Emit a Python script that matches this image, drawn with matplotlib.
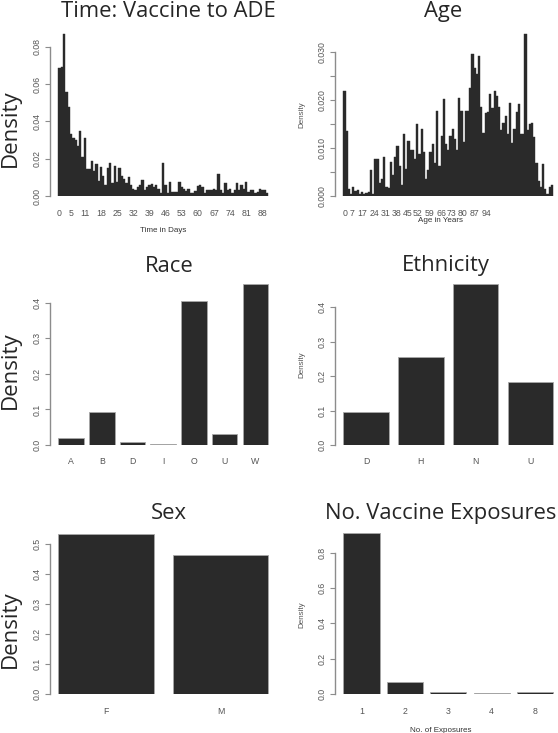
import matplotlib.pyplot as plt
import numpy as np

# --- data ---
days_density = [0.0684, 0.0690, 0.0866, 0.0559, 0.0475, 0.0330, 0.0310, 0.0300, 0.0270, 0.0346,
                0.0210, 0.0310, 0.0143, 0.0143, 0.0190, 0.0136, 0.0170, 0.0080, 0.0157, 0.0107,
                0.0060, 0.0150, 0.0175, 0.0070, 0.0160, 0.0077, 0.0150, 0.0107, 0.0090, 0.0070,
                0.0100, 0.0060, 0.0040, 0.0030, 0.0046, 0.0060, 0.0086, 0.0030, 0.0046, 0.0057,
                0.0064, 0.0050, 0.0060, 0.0040, 0.0014, 0.0178, 0.0060, 0.0014, 0.0075, 0.0020,
                0.0020, 0.0020, 0.0075, 0.0046, 0.0040, 0.0025, 0.0040, 0.0014, 0.0018, 0.0025,
                0.0055, 0.0060, 0.0046, 0.0018, 0.0030, 0.0032, 0.0030, 0.0037, 0.0030, 0.0120,
                0.0030, 0.0014, 0.0068, 0.0030, 0.0040, 0.0018, 0.0030, 0.0070, 0.0032, 0.0057,
                0.0040, 0.0075, 0.0023, 0.0030, 0.0030, 0.0014, 0.0020, 0.0036, 0.0030, 0.0032,
                0.0018]
day_labels = [0, 5, 11, 18, 25, 32, 39, 46, 53, 60, 67, 74, 81, 88]

age_density = [0.0219, 0.0136, 0.0015, 0.0004, 0.0019, 0.0011, 0.0012, 0.0004, 0.0008, 0.0004,
               0.0006, 0.0008, 0.0054, 0.0004, 0.0076, 0.0076, 0.0028, 0.0035, 0.0081, 0.0019,
               0.0016, 0.0070, 0.0044, 0.0082, 0.0104, 0.0062, 0.0023, 0.0129, 0.0057, 0.0114,
               0.0096, 0.0096, 0.0076, 0.0149, 0.0087, 0.0140, 0.0092, 0.0035, 0.0054, 0.0092,
               0.0109, 0.0069, 0.0177, 0.0062, 0.0125, 0.0201, 0.0107, 0.0096, 0.0125, 0.0140,
               0.0118, 0.0096, 0.0204, 0.0177, 0.0113, 0.0177, 0.0177, 0.0224, 0.0295, 0.0265,
               0.0253, 0.0291, 0.0185, 0.0130, 0.0172, 0.0175, 0.0212, 0.0182, 0.0219, 0.0208,
               0.0185, 0.0138, 0.0151, 0.0166, 0.0128, 0.0194, 0.0111, 0.0140, 0.0174, 0.0192,
               0.0129, 0.0129, 0.0336, 0.0138, 0.0150, 0.0151, 0.0123, 0.0069, 0.0031, 0.0019,
               0.0066, 0.0015, 0.0004, 0.0019, 0.0023]
age_labels = [0, 7, 17, 24, 31, 38, 45, 52, 59, 66, 73, 80, 87, 94]
age_label_pos = [0.6, 4.0, 8.7, 14.3, 19.3, 23.9, 29.2, 33.8, 39.0, 44.3, 49.0, 53.9, 59.2, 64.6]

race_cats = ['A', 'B', 'D', 'I', 'O', 'U', 'W']
race_density = [0.0206, 0.0918, 0.0094, 0.0028, 0.4045, 0.0309, 0.453]

eth_cats = ['D', 'H', 'N', 'U']
eth_density = [0.097, 0.257, 0.469, 0.184]

sex_cats = ['F', 'M']
sex_density = [0.535, 0.465]

exp_cats = ['1', '2', '3', '4', '8']
exp_density = [0.909, 0.070, 0.011, 0.0057, 0.011]

W, H = 558, 733
BAR = '#2a2a2a'
AXC = '#8c8c8c'
TXT = '#555555'
SMALL = 'Liberation Sans'


def fx(x):
    return x / W


def fy(y):
    return 1 - y / H


def make_ax(left, base):
    # left = y axis line, base = baseline pixel row
    return fig.add_axes([fx(left), fy(base), 226.5 / W, 168 / H])


def style(ax, n_units, yticks, ylabels, ytop):
    pad = 0.04 * (n_units[1] - n_units[0])
    ax.set_xlim(n_units[0] - pad, n_units[1] + pad)
    ax.set_ylim(0, ytop)
    for s in ['top', 'right', 'bottom']:
        ax.spines[s].set_visible(False)
    ax.spines['left'].set_bounds(0, yticks[-1])
    ax.spines['left'].set_color(AXC)
    ax.spines['left'].set_linewidth(1.0)
    ax.set_yticks(yticks)
    ax.set_yticklabels(ylabels, rotation=90, va='center', family=SMALL)
    ax.tick_params(axis='y', length=3.5, width=0.8, color=AXC, labelsize=6.3,
                   labelcolor=TXT, pad=2.5)
    ax.tick_params(axis='x', length=0, labelsize=6.3, labelcolor=TXT, pad=9)
    ax.patch.set_alpha(0)


def hist_panel(ax, vals, labels, label_pos, yticks, ylabels, ytop):
    n = len(vals)
    ax.bar(np.arange(n) + 0.5, vals, width=1, color=BAR, edgecolor=BAR, linewidth=0.3)
    style(ax, (0, n), yticks, ylabels, ytop)
    ax.set_xticks(label_pos)
    ax.set_xticklabels([str(v) for v in labels], family=SMALL)


def cat_panel(ax, cats, vals, yticks, ylabels, ytop):
    n = len(cats)
    centers = 0.7 + 1.2 * np.arange(n)
    ax.bar(centers, vals, width=1, color=BAR, edgecolor='#a8a8a8', linewidth=0.6)
    style(ax, (0.2, 1.2 * n), yticks, ylabels, ytop)
    ax.set_xticks(centers)
    ax.set_xticklabels(cats, family=SMALL)


fig = plt.figure(figsize=(W / 100, H / 100), dpi=100)

# Time: vaccine to ADE
ax1 = make_ax(50, 196)
hist_panel(ax1, days_density, day_labels, [d + 0.5 for d in day_labels],
           [0, 0.02, 0.04, 0.06, 0.08], ['0.00', '0.02', '0.04', '0.06', '0.08'], 0.0900)

# Age
ax2 = make_ax(335, 196)
hist_panel(ax2, age_density, age_labels, age_label_pos,
           [0, 0.005, 0.010, 0.015, 0.020, 0.025, 0.030],
           ['0.000', '', '0.010', '', '0.020', '', '0.030'], 0.0349)

# Race
ax3 = make_ax(50, 445)
cat_panel(ax3, race_cats, race_density, [0, 0.1, 0.2, 0.3, 0.4],
          ['0.0', '0.1', '0.2', '0.3', '0.4'], 0.472)

# Ethnicity
ax4 = make_ax(335, 445)
cat_panel(ax4, eth_cats, eth_density, [0, 0.1, 0.2, 0.3, 0.4],
          ['0.0', '0.1', '0.2', '0.3', '0.4'], 0.488)

# Sex
ax5 = make_ax(50, 694)
cat_panel(ax5, sex_cats, sex_density, [0, 0.1, 0.2, 0.3, 0.4, 0.5],
          ['0.0', '0.1', '0.2', '0.3', '0.4', '0.5'], 0.56)

# No. vaccine exposures
ax6 = make_ax(335, 694)
cat_panel(ax6, exp_cats, exp_density, [0, 0.2, 0.4, 0.6, 0.8],
          ['0.0', '0.2', '0.4', '0.6', '0.8'], 0.951)

# titles
tkw = dict(ha='center', va='baseline', fontsize=15.8, family='Open Sans', color='#262626')
fig.text(fx(168), fy(17), 'Time: Vaccine to ADE', **tkw)
fig.text(fx(443), fy(17), 'Age', **tkw)
fig.text(fx(169), fy(272), 'Race', **tkw)
fig.text(fx(446), fy(271), 'Ethnicity', **tkw)
fig.text(fx(169), fy(519), 'Sex', **tkw)
fig.text(fx(441), fy(519), 'No. Vaccine Exposures', **tkw)

# big left-column y labels
for yc in [128, 370, 629]:
    fig.text(fx(10), fy(yc), 'Density', rotation=90, ha='center', va='center',
             fontsize=16, family='Open Sans', color='#262626')

# small right-column y labels
for yc in [115, 365, 615]:
    fig.text(fx(302), fy(yc), 'Density', rotation=90, ha='center', va='center',
             fontsize=5.8, family=SMALL, color=TXT)

# x axis titles
xkw = dict(ha='center', va='center', fontsize=5.8, family=SMALL, color='#333333')
fig.text(fx(163), fy(230), 'Time in Days', **xkw)
fig.text(fx(441), fy(221), 'Age in Years', **xkw)
fig.text(fx(441), fy(730), 'No. of Exposures', **xkw)

fig.savefig('out.png', dpi=100)
